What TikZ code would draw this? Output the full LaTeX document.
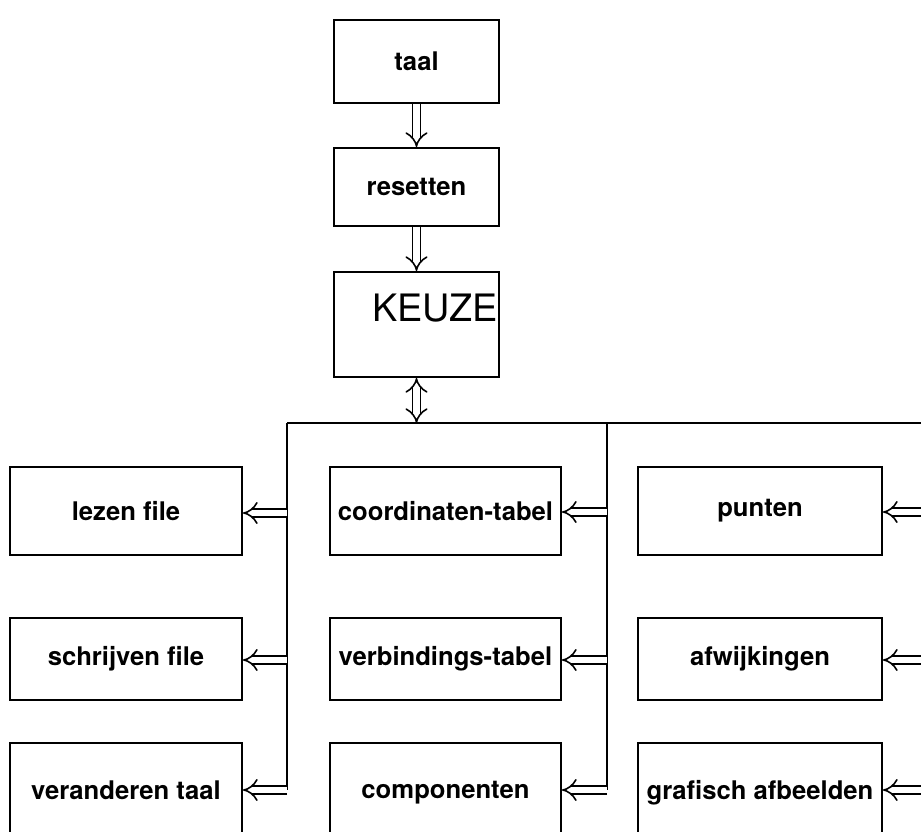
\documentclass[tikz,border=0pt]{standalone}
\usepackage{fontspec}
\setmainfont{TeX Gyre Heros}
\usetikzlibrary{arrows.meta}

\tikzset{
  blok/.style={draw=black, line width=1.1pt, inner sep=0pt, font=\fontsize{14.6}{16}\selectfont\bfseries},
  pijl/.style={draw=black, line width=0.9pt, double, double distance=3.5pt, -{Implies}},
  tweepijl/.style={draw=black, line width=0.9pt, double, double distance=3.5pt, {Implies}-{Implies}},
  bus/.style={draw=black, line width=1pt}
}

\begin{document}
\begin{tikzpicture}[x=0.02cm, y=-0.02cm]

\useasboundingbox (0,0) rectangle (921,832);

% bovenste rij
\node[blok, minimum width=165*0.02cm, minimum height=83*0.02cm] (taal) at (416.5,61.5) {taal};
\node[blok, minimum width=165*0.02cm, minimum height=78*0.02cm] (resetten) at (416.5,187) {resetten};
\node[blok, minimum width=165*0.02cm, minimum height=105*0.02cm] (keuze) at (416.5,324.5) {};
\node[font=\fontsize{21.5}{24}\selectfont] (keuzetekst) at (435,308) {KEUZE};

\draw[pijl] (taal) -- (resetten);
\draw[pijl] (resetten) -- (keuze);

% bus
\coordinate (busmid) at (416.5,423);
\coordinate (busL) at (287,423);
\coordinate (busM) at (607,423);
\coordinate (busR) at (925,423);
\draw[tweepijl] (keuze.south) -- (busmid);
\draw[bus] (busL) -- (busR);

% linker kolom
\node[blok, minimum width=232*0.02cm, minimum height=88*0.02cm] (lezen) at (126,511) {lezen file};
\node[blok, minimum width=232*0.02cm, minimum height=82*0.02cm] (schrijven) at (126,659) {schrijven file};
\node[blok, minimum width=232*0.02cm, minimum height=100*0.02cm] (veranderen) at (126,793) {\raisebox{3pt}{veranderen taal}};

% middelste kolom
\node[blok, minimum width=231*0.02cm, minimum height=88*0.02cm] (coord) at (445.5,511) {coordinaten-tabel};
\node[blok, minimum width=231*0.02cm, minimum height=82*0.02cm] (verb) at (445.5,659) {verbindings-tabel};
\node[blok, minimum width=231*0.02cm, minimum height=100*0.02cm] (comp) at (445.5,793) {\raisebox{3pt}{componenten}};

% rechter kolom
\node[blok, minimum width=244*0.02cm, minimum height=88*0.02cm] (punten) at (760,511) {punten};
\node[blok, minimum width=244*0.02cm, minimum height=82*0.02cm] (afw) at (760,659) {afwijkingen};
\node[blok, minimum width=244*0.02cm, minimum height=100*0.02cm] (grafisch) at (760,793) {\raisebox{3pt}{grafisch afbeelden}};

% aftakkingen
\coordinate (l1) at (287,513);
\coordinate (l2) at (287,660);
\coordinate (l3) at (287,790);
\coordinate (m1) at (607,512);
\coordinate (m2) at (607,660);
\coordinate (m3) at (607,790);
\coordinate (r1) at (925,512);
\coordinate (r2) at (925,660);
\coordinate (r3) at (925,790);

\draw[bus] (busL) -- (l3);
\draw[bus] (busM) -- (m3);

\draw[pijl] (l1) -- (lezen.east |- l1);
\draw[pijl] (l2) -- (schrijven.east |- l2);
\draw[pijl] (l3) -- (veranderen.east |- l3);
\draw[pijl] (m1) -- (coord.east |- m1);
\draw[pijl] (m2) -- (verb.east |- m2);
\draw[pijl] (m3) -- (comp.east |- m3);
\draw[pijl] (r1) -- (punten.east |- r1);
\draw[pijl] (r2) -- (afw.east |- r2);
\draw[pijl] (r3) -- (grafisch.east |- r3);

\end{tikzpicture}
\end{document}
